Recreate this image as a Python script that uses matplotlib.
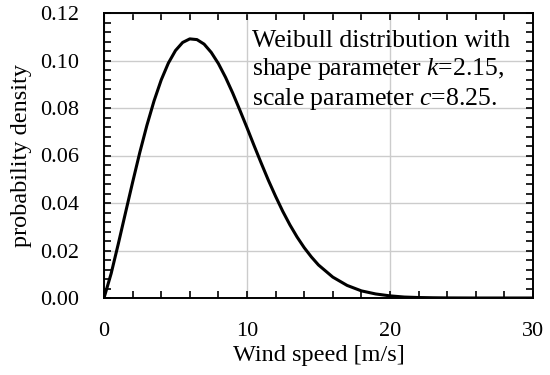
import matplotlib.pyplot as plt
from matplotlib.ticker import MultipleLocator

# wind speed [m/s] and probability density
wind_speed = [0, 0.5, 1, 1.5, 2, 2.5, 3, 3.5, 4, 4.5, 5, 5.5, 6, 6.5, 7, 7.5,
              8, 8.5, 9, 9.5, 10, 10.5, 11, 11.5, 12, 12.5, 13, 13.5, 14, 14.5,
              15, 16, 17, 18, 19, 20, 21, 22, 23, 24, 25, 26, 28, 30]
density = [0.0, 0.0103, 0.0228, 0.0358, 0.0487, 0.0612, 0.0727, 0.0830,
           0.0918, 0.0989, 0.1042, 0.1076, 0.1091, 0.1088, 0.1069, 0.1034,
           0.0987, 0.0929, 0.0863, 0.0791, 0.0717, 0.0641, 0.0567, 0.0495,
           0.0428, 0.0365, 0.0308, 0.0257, 0.0212, 0.0173, 0.0139, 0.0088,
           0.0053, 0.0030, 0.0017, 0.0009, 0.0004, 0.0002, 0.0001, 0.00004,
           0.00002, 0.0, 0.0, 0.0]

annotation = ("Weibull distribution with\n"
              "shape parameter $\\mathit{k}$=2.15,\n"
              "scale parameter $\\mathit{c}$=8.25.")

plt.rcParams['font.family'] = 'Liberation Serif'
plt.rcParams['mathtext.fontset'] = 'custom'
plt.rcParams['mathtext.it'] = 'Liberation Serif:italic'
plt.rcParams['mathtext.rm'] = 'Liberation Serif'

fig = plt.figure(figsize=(5.5, 3.75), dpi=100)
ax = fig.add_axes([104 / 550, 1 - 298 / 375, 429 / 550, 285 / 375])

ax.plot(wind_speed, density, color='black', linewidth=2.2, zorder=3)

ax.set_xlim(0, 30)
ax.set_ylim(0, 0.12)
ax.xaxis.set_major_locator(MultipleLocator(10))
ax.xaxis.set_minor_locator(MultipleLocator(2))
ax.yaxis.set_major_locator(MultipleLocator(0.02))
ax.yaxis.set_minor_locator(MultipleLocator(0.004))
ax.yaxis.set_major_formatter(lambda v, p: f"{v:.2f}")
ax.grid(True, which='major', color='#cccccc', linewidth=1.0, zorder=0)

ax.tick_params(which='both', direction='in', top=True, right=True,
               labelsize=16, width=1.2)
ax.tick_params(which='minor', length=5)
ax.tick_params(which='major', length=5)
ax.tick_params(axis='y', which='major', pad=18)
ax.tick_params(axis='x', which='major', pad=17)
for s in ax.spines.values():
    s.set_linewidth(1.4)

ax.set_xlabel('Wind speed [m/s]', fontsize=17.5, labelpad=3)
ax.set_ylabel('probability density', fontsize=17.5, labelpad=6)

ax.text(0.345, 0.94, annotation, transform=ax.transAxes, ha='left', va='top',
        fontsize=18.5, linespacing=1.2)

fig.savefig('out.png', dpi=100)
